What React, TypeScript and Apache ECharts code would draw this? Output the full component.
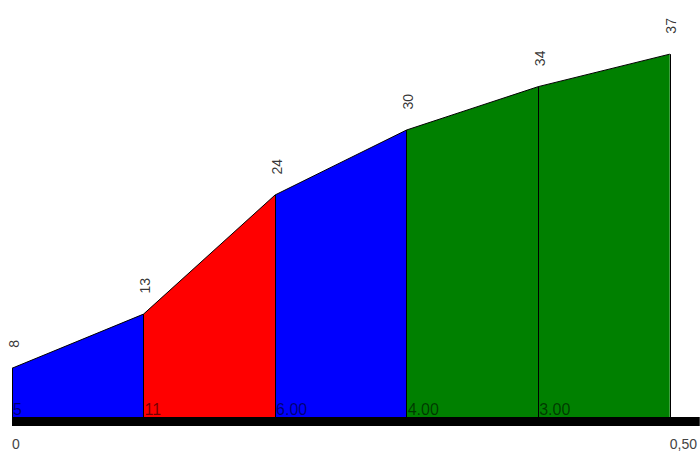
import React, { useEffect, useRef } from 'react';
import * as echarts from 'echarts';

// Profile data
const distances = [0, 0.1, 0.2, 0.3, 0.4, 0.5];
const elevations = [8, 13, 24, 30, 34, 37];
const gradeLabels = ['5', '11', '6.00', '4.00', '3.00'];
const segmentColors = ['#0000ff', '#ff0000', '#0000ff', '#008000', '#008000'];
const xTickValues = [0, 0.5];

const Y_MIN = 3.5;
const Y_MAX = 42;
const X_MAX = (0.5 * 688) / 658;
const FONT = 'Liberation Sans, Arial, sans-serif';

function formatDistance(v: number): string {
  if (v === 0) return '0';
  return v.toFixed(2).replace('.', ',');
}

export default function App() {
  const ref = useRef<HTMLDivElement>(null);

  useEffect(() => {
    document.body.style.margin = '0';
    const chart = echarts.init(ref.current as HTMLDivElement, null, { renderer: 'svg' });

    const segmentSeries = gradeLabels.map((_, i) => ({
      type: 'line',
      name: 'seg' + i,
      data: [
        [distances[i], elevations[i]],
        [distances[i + 1], elevations[i + 1]],
      ],
      symbol: 'none',
      showSymbol: false,
      lineStyle: { color: '#000', width: 1 },
      areaStyle: { color: segmentColors[i], opacity: 1, origin: 'start' },
      silent: true,
      z: 2,
    }));

    const option: any = {
      animation: false,
      grid: { left: 12, right: 0, top: 0, bottom: 39, containLabel: false },
      xAxis: {
        type: 'value',
        min: 0,
        max: X_MAX,
        offset: 4.5,
        z: 1,
        axisLine: { show: true, onZero: false, lineStyle: { color: '#000', width: 9, cap: 'butt' } },
        axisTick: { show: false },
        splitLine: { show: false },
        axisLabel: {
          customValues: xTickValues,
          formatter: (v: number) => formatDistance(v),
          align: 'left',
          verticalAlign: 'top',
          margin: 15,
          fontSize: 14,
          color: '#444',
          fontFamily: FONT,
        },
      },
      yAxis: {
        type: 'value',
        min: Y_MIN,
        max: Y_MAX,
        show: false,
        splitLine: { show: false },
      },
      series: [
        ...segmentSeries,
        {
          type: 'scatter',
          name: 'separators',
          data: distances.map((d, i) => [d, elevations[i]]),
          symbolSize: 1,
          itemStyle: { color: 'transparent' },
          silent: true,
          z: 3,
          label: {
            show: true,
            formatter: (p: any) => String(p.value[1]),
            position: [2, -20],
            rotate: 90,
            align: 'left',
            verticalAlign: 'middle',
            fontSize: 14,
            color: '#000',
            fontFamily: FONT,
          },
          markLine: {
            silent: true,
            symbol: 'none',
            label: { show: false },
            lineStyle: { color: '#000', width: 1, type: 'solid' },
            data: distances.map((d, i) => [
              { coord: [d, Y_MIN] },
              { coord: [d, elevations[i]] },
            ]),
          },
        },
        {
          type: 'scatter',
          name: 'grades',
          data: gradeLabels.map((_, i) => [distances[i], Y_MIN]),
          symbolSize: 1,
          itemStyle: { color: 'transparent' },
          silent: true,
          z: 4,
          label: {
            show: true,
            formatter: (p: any) => gradeLabels[p.dataIndex],
            position: [1.5, 1],
            align: 'left',
            verticalAlign: 'bottom',
            fontSize: 16,
            color: 'rgba(0,0,0,0.7)',
            fontFamily: FONT,
          },
        },
      ],
    };

    chart.setOption(option);
    return () => chart.dispose();
  }, []);

  return <div ref={ref} style={{ width: 700, height: 456 }} />;
}
